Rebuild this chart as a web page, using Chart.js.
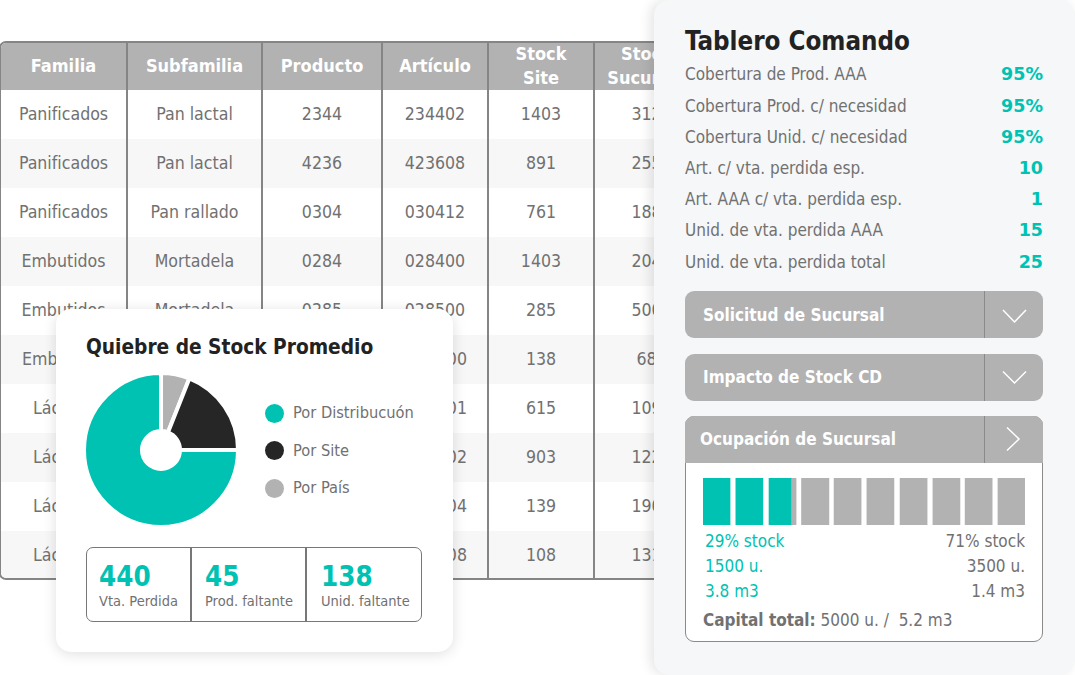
<!DOCTYPE html>
<html lang="es">
<head>
<meta charset="utf-8">
<title>Tablero Comando</title>
<script src="https://cdn.jsdelivr.net/npm/chart.js@4"></script>
<style>
  * { box-sizing: border-box; }
  html, body { margin: 0; width: 1075px; height: 675px; overflow: hidden; background: #fff; }
  body { position: relative; font-family: "DejaVu Sans Condensed", "DejaVu Sans", sans-serif; color: #717171; }
  .abs { position: absolute; white-space: nowrap; }

  /* background table */
  #tableWrap { position: absolute; left: -1px; top: 41px; width: 702px; height: 539px; border: 2px solid #858585; border-radius: 7px; overflow: hidden; background: #fff; }
  #stockTable { border-collapse: collapse; table-layout: fixed; width: 698px; }
  #stockTable th { height: 47px; background: #b2b2b2; color: #fff; font-size: 18px; line-height: 23.5px; font-weight: bold; padding: 0; border-right: 2px solid #858585; }
  #stockTable th span { position: relative; top: -1px; }
  #stockTable td { height: 49px; text-align: center; font-size: 17.6px; padding: 0 0 1px; border-right: 2px solid #858585; }
  #stockTable tr:nth-child(even) td { background: #f7f7f7; }

  /* right panel */
  #panel { position: absolute; left: 654px; top: 0; width: 421px; height: 675px; background: #f5f7f8; border-radius: 15px; box-shadow: -4px 0 12px rgba(0,0,0,.10); }
  #panelTitle { left: 685px; top: 25px; font-size: 25.7px; line-height: 32px; font-weight: bold; color: #222; }
  .kpiLabel { left: 685px; font-size: 17px; line-height: 22px; }
  .kpiValue { right: 32px; font-family: "DejaVu Sans", sans-serif; font-size: 17.5px; line-height: 22px; font-weight: bold; color: #00c2b2; }
  .acc { position: absolute; left: 685px; width: 358px; height: 47px; background: #b2b2b2; border-radius: 9px; color: #fff; font-weight: bold; font-size: 17px; line-height: 47px; padding-left: 18px; }
  .acc i { position: absolute; left: 299px; top: 0; width: 1px; height: 100%; background: #8a8a8a; }
  .acc svg { position: absolute; left: 300px; top: 0; }
  #occBox { position: absolute; left: 685px; top: 416px; width: 358px; height: 226px; border: 1px solid #8a8a8a; border-radius: 9px; background: #fff; }
  .occ { font-size: 17px; line-height: 22px; }
  .teal { color: #00c2b2; }

  /* pie card */
  #card { position: absolute; left: 56px; top: 309px; width: 397px; height: 343px; background: #fff; border-radius: 15px; box-shadow: 0 2px 14px rgba(0,0,0,.13); }
  #cardTitle { left: 86px; top: 334px; font-size: 20.7px; line-height: 26px; font-weight: bold; color: #222; }
  .dot { position: absolute; width: 19px; height: 19px; border-radius: 50%; }
  .legendText { left: 293px; font-size: 16.3px; line-height: 22px; }
  #statBox { position: absolute; left: 86px; top: 547px; width: 336px; height: 75px; border: 1.5px solid #777; border-radius: 7px; }
  .statDiv { position: absolute; top: 547px; width: 1.5px; height: 75px; background: #777; }
  .statNum { font-size: 27.5px; line-height: 34px; font-weight: bold; color: #00c2b2; top: 559px; }
  .statLabel { font-size: 14.5px; line-height: 18px; top: 592px; }
</style>
</head>
<body>
<div id="tableWrap"><table id="stockTable"><colgroup id="cols"></colgroup><thead><tr id="head"></tr></thead><tbody id="rows"></tbody></table></div>

<div id="card"></div>
<div class="abs" id="cardTitle">Quiebre de Stock Promedio</div>
<canvas id="pieChart" class="abs" style="left:82px;top:371px;width:158px;height:158px"></canvas>
<div id="statBox"></div>
<div class="statDiv" style="left:190px"></div>
<div class="statDiv" style="left:305px"></div>

<div id="panel"></div>
<div class="abs" id="panelTitle">Tablero Comando</div>

<div class="acc" style="top:291px;line-height:49px">Solicitud de Sucursal<i></i><svg width="58" height="47"><path d="M18 19 L29.5 31 L41 19" fill="none" stroke="#fff" stroke-width="1.5"/></svg></div>
<div class="acc" style="top:353.5px">Impacto de Stock CD<i></i><svg width="58" height="47"><path d="M18 17.5 L29.5 29 L41 17.5" fill="none" stroke="#fff" stroke-width="1.5"/></svg></div>
<div id="occBox"></div>
<div class="acc" style="top:416px;border-radius:9px 9px 0 0;padding-left:15px">Ocupación de Sucursal<i></i><svg width="58" height="47"><path d="M22 11.5 L34 23 L22 34.5" fill="none" stroke="#fff" stroke-width="1.5"/></svg></div>
<canvas id="occChart" class="abs" style="left:703px;top:478px;width:322px;height:47px"></canvas>
<div class="abs occ teal" style="left:705px;top:530px">29% stock</div>
<div class="abs occ teal" style="left:705px;top:555px">1500 u.</div>
<div class="abs occ teal" style="left:705px;top:580px">3.8 m3</div>
<div class="abs occ" style="right:50px;top:530px">71% stock</div>
<div class="abs occ" style="right:50px;top:555px">3500 u.</div>
<div class="abs occ" style="right:50px;top:580px">1.4 m3</div>
<div class="abs occ" style="left:703px;top:609px"><b>Capital total:</b> 5000 u. /&nbsp; 5.2 m3</div>

<script>
const teal = '#00c2b2';
const gray = '#b2b2b2';
const dark = '#262626';

// table, only what shows around the card is kept in the covered rows
const columns = ['Familia', 'Subfamilia', 'Producto', 'Artículo', 'Stock<br>Site', 'Stock<br>Sucursal'];
const columnWidths = [126, 135, 120, 106, 106, 105];
const familia = ['Panificados', 'Panificados', 'Panificados', 'Embutidos', 'Embutidos', 'Emb', 'Lác', 'Lác', 'Lác', 'Lác'];
const subfamilia = ['Pan lactal', 'Pan lactal', 'Pan rallado', 'Mortadela', 'Mortadela', '', '', '', '', ''];
const producto = ['2344', '4236', '0304', '0284', '0285', '', '', '', '', ''];
const articulo = ['234402', '423608', '030412', '028400', '028500', '00', '01', '02', '04', '08'];
const stockSite = ['1403', '891', '761', '1403', '285', '138', '615', '903', '139', '108'];
const stockSucursal = ['312', '255', '188', '204', '500', '68', '109', '122', '190', '131'];

// panel
const kpiLabels = ['Cobertura de Prod. AAA', 'Cobertura Prod. c/ necesidad', 'Cobertura Unid. c/ necesidad', 'Art. c/ vta. perdida esp.', 'Art. AAA c/ vta. perdida esp.', 'Unid. de vta. perdida AAA', 'Unid. de vta. perdida total'];
const kpiValues = ['95%', '95%', '95%', '10', '1', '15', '25'];

// pie, clockwise from the lower right
const pieLabels = ['Por Distribucuón', 'Por País', 'Por Site'];
const pieValues = [75, 6, 19];
const pieColors = [teal, gray, dark];
const legendOrder = [0, 2, 1];

// stat box
const statNumbers = ['440', '45', '138'];
const statLabels = ['Vta. Perdida', 'Prod. faltante', 'Unid. faltante'];

// occupation bar, in percent of its width
const occTeal = [[0, 8.4], [10.2, 18.6], [20.5, 27.3]];
const occGray = [[27.3, 28.9], [30.6, 39.1], [40.7, 49.1], [50.9, 59.3], [61.2, 69.6], [71.4, 79.8], [81.4, 89.8], [91.6, 100]];

function addText(cls, text, css) {
    const el = document.createElement('div');
    el.className = 'abs ' + cls;
    el.textContent = text;
    Object.assign(el.style, css);
    document.body.appendChild(el);
}

document.getElementById('cols').innerHTML = columnWidths.map(w => `<col style="width:${w}px">`).join('');
document.getElementById('head').innerHTML = columns.map(c => `<th><span>${c}</span></th>`).join('');
document.getElementById('rows').innerHTML = familia.map((f, i) => {
    // rows under the card show a left or right stub, so they keep the full text's edge
    const stubLeft = i < 5 ? '' : ` style="text-align:left;padding-left:${f === 'Emb' ? 21 : 32}px"`;
    const stubRight = i < 5 ? '' : ' style="text-align:right;padding-right:20px"';
    return `<tr><td${stubLeft}>${f}</td><td>${subfamilia[i]}</td><td>${producto[i]}</td><td${stubRight}>${articulo[i]}</td><td>${stockSite[i]}</td><td>${stockSucursal[i]}</td></tr>`;
}).join('');

// rows of the command panel sit about 31.2px apart
kpiLabels.forEach((label, i) => {
    const top = 63.3 + i * 31.2;
    addText('kpiLabel', label, { top: top + 'px' });
    addText('kpiValue', kpiValues[i], { top: top + 'px' });
});

legendOrder.forEach((idx, i) => {
    const top = 413 + i * 37.7;
    const dot = document.createElement('div');
    dot.className = 'dot';
    dot.style.left = '264.5px';
    dot.style.top = (top - 9.5) + 'px';
    dot.style.background = pieColors[idx];
    document.body.appendChild(dot);
    addText('legendText', pieLabels[idx], { top: (top - 11) + 'px' });
});

[[99, 99], [205, 205], [321, 321]].forEach((x, i) => {
    addText('statNum', statNumbers[i], { left: x[0] + 'px' });
    addText('statLabel', statLabels[i], { left: x[1] + 'px' });
});

new Chart(document.getElementById('pieChart'), {
    type: 'doughnut',
    data: {
        labels: pieLabels,
        datasets: [{
            data: pieValues,
            backgroundColor: pieColors,
            borderColor: '#fff',
            borderWidth: 4
        }]
    },
    options: {
        responsive: false,
        animation: false,
        rotation: 90,
        cutout: '24.7%',
        layout: { padding: 0 },
        plugins: { legend: { display: false }, tooltip: { enabled: false } }
    }
});

const occDatasets = occTeal.map(r => ({ data: [r], backgroundColor: teal }))
    .concat(occGray.map(r => ({ data: [r], backgroundColor: gray })));

new Chart(document.getElementById('occChart'), {
    type: 'bar',
    data: { labels: ['Ocupación'], datasets: occDatasets },
    options: {
        indexAxis: 'y',
        responsive: false,
        animation: false,
        grouped: false,
        categoryPercentage: 1,
        barPercentage: 1,
        layout: { padding: 0 },
        scales: {
            x: { display: false, min: 0, max: 100 },
            y: { display: false }
        },
        plugins: { legend: { display: false }, tooltip: { enabled: false } }
    }
});
</script>
</body>
</html>
